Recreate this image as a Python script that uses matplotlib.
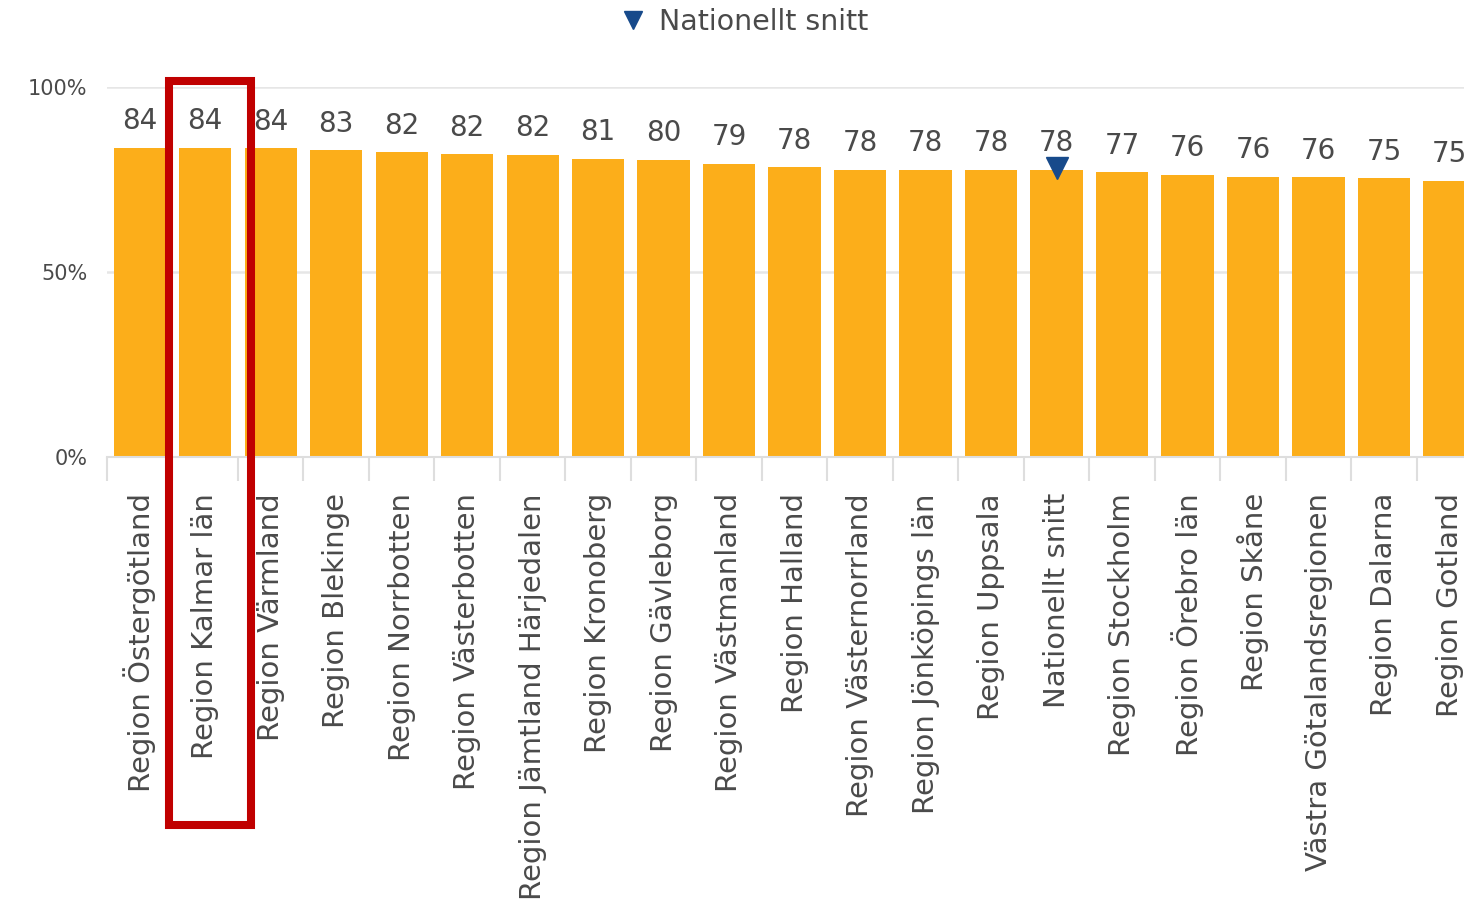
import matplotlib.pyplot as plt
from matplotlib.patches import Rectangle
from matplotlib.ticker import FixedLocator

regions = [
    'Region Östergötland', 'Region Kalmar län', 'Region Värmland',
    'Region Blekinge', 'Region Norrbotten', 'Region Västerbotten',
    'Region Jämtland Härjedalen', 'Region Kronoberg', 'Region Gävleborg',
    'Region Västmanland', 'Region Halland', 'Region Västernorrland',
    'Region Jönköpings län', 'Region Uppsala', 'Nationellt snitt',
    'Region Stockholm', 'Region Örebro län', 'Region Skåne',
    'Västra Götalandsregionen', 'Region Dalarna', 'Region Gotland',
]
values = [83.6, 83.6, 83.5, 82.9, 82.4, 81.8, 81.7, 80.6, 80.4, 79.2, 78.3,
          77.6, 77.6, 77.6, 77.6, 77.0, 76.3, 75.7, 75.6, 75.4, 74.6]
nat_avg = 78
nat_idx = regions.index('Nationellt snitt')
highlight = regions.index('Region Kalmar län')

bar_color = '#fcae1a'
mark_color = '#174a8b'
text_color = '#4a4a4a'
light = '#dedede'

W, H = 1464, 913
fig = plt.figure(figsize=(W / 100, H / 100), dpi=100)
ax = fig.add_axes([107 / W, 1 - 457 / H, 1 - 107 / W, (457 - 87) / H])

x = range(len(regions))
ax.bar(x, values, width=0.8, color=bar_color, zorder=2)
for i, v in enumerate(values):
    ax.annotate(f'{v:.0f}', (i, v), xytext=(0, 9), textcoords='offset points',
                ha='center', va='bottom', fontsize=20, color=text_color)

ax.plot([nat_idx], [nat_avg], 'v', color=mark_color, ms=16, zorder=3,
        label='Nationellt snitt')

ax.set_xlim(-0.5, 20.22)
ax.set_ylim(0, 100)
ax.set_yticks([0, 50, 100])
ax.set_yticklabels(['0%', '50%', '100%'])
ax.yaxis.grid(True, color='#e6e6e6', linewidth=1.8, zorder=0)
ax.set_axisbelow(True)

ax.set_xticks(list(x))
ax.set_xticklabels(regions, rotation=90, va='top', ha='center')
ax.xaxis.set_minor_locator(FixedLocator([i - 0.5 for i in range(len(regions) + 1)]))
ax.tick_params(axis='x', which='major', length=0, pad=26, labelsize=21,
               labelcolor=text_color)
ax.tick_params(axis='x', which='minor', length=17, width=1.5, color=light)
ax.tick_params(axis='y', length=0, pad=14, labelsize=15, labelcolor=text_color)

for s in ['top', 'right', 'left']:
    ax.spines[s].set_visible(False)
ax.spines['bottom'].set_color(light)
ax.spines['bottom'].set_linewidth(1.5)

# red frame around the highlighted region
ax.add_patch(Rectangle((highlight - 0.55, -99.5), 1.245, 201, fill=False,
                       edgecolor='#c00000', linewidth=5.8, clip_on=False,
                       zorder=5))

fig.legend(loc='center', bbox_to_anchor=(745 / W, 1 - 22 / H), frameon=False,
           fontsize=20.5, labelcolor=text_color, handlelength=0.8,
           handletextpad=0.5, markerscale=0.85)

fig.savefig('out.png', dpi=100)
